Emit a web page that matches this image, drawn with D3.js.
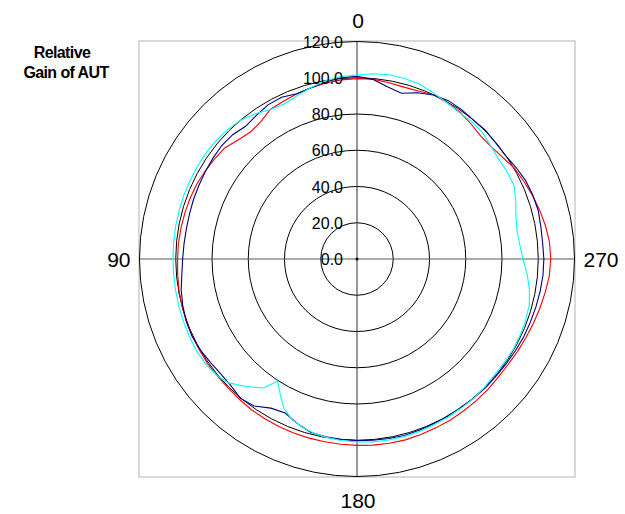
<!DOCTYPE html>
<html>
<head>
<meta charset="utf-8">
<script src="https://cdn.jsdelivr.net/npm/d3@7"></script>
<style>
  html, body { margin: 0; padding: 0; background: #fff; }
  svg { display: block; font-family: "Liberation Sans", Arial, sans-serif; }
</style>
</head>
<body>
<svg id="chart" width="625" height="514"></svg>
<script>
// Direction labels (degrees, counter-clockwise from top)
const directionLabels = ["0", "90", "180", "270"];
// Radial tick values
const radialTicks = [0, 20, 40, 60, 80, 100, 120];

// Common angle grid (degrees) for red and navy series
const angles = d3.range(0, 360, 5);

const redValues = [
  99.5, 99.2, 98.6, 97.8, 97.0, 96.0, 95.4, 92.5, 91.5, 92.8, 95.3, 96.0,
  96.8, 97.6, 98.0, 98.3, 98.6, 98.9, 99.0, 99.3, 99.7, 100.0, 100.2, 100.3,
  100.4, 100.6, 100.5, 100.6, 101.0, 101.5, 101.8, 102.0, 102.1, 102.3, 102.4, 102.6,
  102.8, 103.1, 103.2, 103.3, 103.0, 102.8, 102.7, 102.4, 102.2, 102.0, 101.6, 101.7,
  102.2, 102.8, 103.6, 104.5, 105.5, 106.5, 106.9, 106.6, 105.6, 104.3, 103.0, 101.5,
  100.2, 98.0, 96.5, 96.3, 97.6, 99.0, 99.6, 100.0, 98.6, 98.3, 98.9, 99.6
];

const navyValues = [
  100.8, 100.3, 99.2, 97.8, 97.0, 98.5, 98.2, 96.8, 95.6, 97.0, 97.4, 97.0,
  96.6, 96.2, 96.0, 95.7, 95.6, 95.8, 96.2, 97.0, 98.5, 99.5, 100.3, 100.5,
  100.0, 99.0, 98.3, 98.6, 100.2, 99.0, 95.0, 93.8, 96.5, 99.0, 99.6, 99.8,
  100.2, 100.4, 100.6, 100.8, 100.5, 100.3, 100.2, 100.0, 100.2, 100.4, 100.3, 100.6,
  101.0, 101.5, 101.8, 102.2, 102.6, 103.0, 103.1, 102.8, 103.0, 103.5, 103.2, 102.6,
  101.2, 99.8, 99.8, 100.3, 100.0, 100.6, 100.9, 99.8, 97.6, 94.7, 96.5, 99.5
];

// Cyan series has its own angle samples (sharp spike near 147 degrees)
const cyanAngles = [
  0, 5, 10, 15, 20, 25, 30, 35, 40, 45, 50, 55, 60, 65, 70, 75, 80, 85, 90,
  95, 100, 105, 110, 115, 120, 125, 130, 134, 139, 144, 147, 151, 154, 158, 162,
  166, 170, 175, 180, 185, 190, 195, 200, 205, 210, 215, 220, 225, 230, 235, 240,
  245, 250, 255, 260, 265, 270, 275, 280, 285, 290, 295, 300, 305, 310, 315, 320,
  325, 330, 335, 340, 345, 350, 355
];
const cyanValues = [
  101.5, 101.0, 99.8, 98.0, 96.0, 94.5, 95.2, 97.8, 100.0, 101.0, 101.5, 101.8,
  101.8, 101.8, 101.8, 101.7, 101.7, 101.6, 101.5,
  101.5, 101.6, 101.7, 101.8, 101.9, 102.0, 101.6, 100.4, 98.4, 93.2, 88.0, 80.5,
  86.8, 91.8, 95.6, 97.6,
  98.9, 99.8, 100.5, 101.0, 101.3, 101.4, 101.3, 101.2, 100.8, 100.6, 100.4, 100.2,
  99.8, 99.3, 99.3, 99.6,
  99.3, 99.0, 98.4, 96.6, 94.2, 91.5, 90.2, 89.6, 90.8, 93.2, 95.6, 95.8, 95.6,
  96.6, 98.2, 98.8,
  98.6, 99.4, 100.8, 102.4, 103.0, 103.2, 102.6
];

const seriesList = [
  { name: "red",  angles: angles,     values: redValues,  color: "#ff0000" },
  { name: "navy", angles: angles,     values: navyValues, color: "#000080" },
  { name: "cyan", angles: cyanAngles, values: cyanValues, color: "#00ffff" }
];

const svg = d3.select("#chart");
const cx = 357, cy = 259;
const r = d3.scaleLinear().domain([0, 120]).range([0, 217.5]);
const R = r(120);

// Plot-area box
svg.append("rect")
  .attr("x", cx - R - 0.5).attr("y", cy - R - 0.5)
  .attr("width", 2 * R + 1).attr("height", 2 * R + 1)
  .attr("fill", "none").attr("stroke", "#b4b4b4").attr("stroke-width", 1);

const g = svg.append("g").attr("transform", `translate(${cx},${cy})`);

// Grid circles
g.selectAll("circle.grid")
  .data(radialTicks.filter(d => d > 0))
  .join("circle")
  .attr("class", "grid")
  .attr("r", d => r(d))
  .attr("fill", "none")
  .attr("stroke", "#000")
  .attr("stroke-width", 1);

// Axes lines
g.append("line").attr("x1", -R).attr("x2", R).attr("y1", 0).attr("y2", 0)
  .attr("stroke", "#555").attr("stroke-width", 1);
g.append("line").attr("x1", 0).attr("x2", 0).attr("y1", -R).attr("y2", R)
  .attr("stroke", "#333").attr("stroke-width", 1);
g.append("circle").attr("r", 1.5).attr("fill", "#000");

// Series
const toRad = d => -d * Math.PI / 180; // counter-clockwise from top
seriesList.forEach(s => {
  const pts = s.angles.map((a, i) => [toRad(a), r(s.values[i])]);
  const line = d3.lineRadial()
    .angle(d => d[0])
    .radius(d => d[1])
    .curve(d3.curveLinearClosed);
  g.append("path")
    .attr("d", line(pts))
    .attr("fill", "none")
    .attr("stroke", s.color)
    .attr("stroke-width", 1.1);
});

// Radial tick labels
g.selectAll("text.rtick")
  .data(radialTicks)
  .join("text")
  .attr("class", "rtick")
  .attr("x", -14)
  .attr("y", d => -r(d))
  .attr("dy", "0.38em")
  .attr("text-anchor", "end")
  .attr("font-size", 16)
  .attr("fill", "#000")
  .text(d => d3.format(".1f")(d));

// Direction labels
const dirPos = {
  "0":   { x: cx + 1,     y: 28,  anchor: "middle" },
  "90":  { x: cx - R - 9, y: 267, anchor: "end" },
  "180": { x: cx + 1,     y: 508, anchor: "middle" },
  "270": { x: cx + R + 9, y: 267, anchor: "start" }
};
svg.selectAll("text.dir")
  .data(directionLabels)
  .join("text")
  .attr("class", "dir")
  .attr("x", d => dirPos[d].x)
  .attr("y", d => dirPos[d].y)
  .attr("text-anchor", d => dirPos[d].anchor)
  .attr("font-size", 21)
  .attr("fill", "#000")
  .text(d => d);

// Axis title
const title = svg.append("text")
  .attr("font-size", 16)
  .attr("font-weight", "bold")
  .attr("letter-spacing", "-0.6")
  .attr("text-anchor", "middle")
  .attr("fill", "#000");
title.append("tspan").attr("x", 62).attr("y", 58).text("Relative");
title.append("tspan").attr("x", 66).attr("y", 78).text("Gain of AUT");
</script>
</body>
</html>
